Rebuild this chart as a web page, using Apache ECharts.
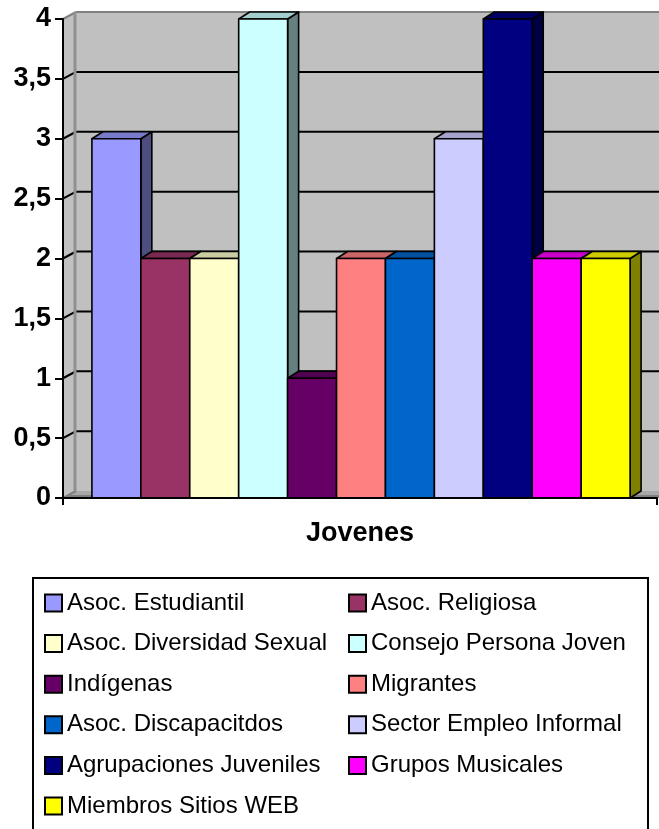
<!DOCTYPE html>
<html>
<head>
<meta charset="utf-8">
<script src="https://cdn.jsdelivr.net/npm/echarts@6/dist/echarts.min.js"></script>
<style>
html,body{margin:0;padding:0;background:#fff;}
#chart{width:659px;height:829px;}
</style>
</head>
<body>
<div id="chart"></div>
<script>
const categories = ['Jovenes'];
const seriesNames = [
  'Asoc. Estudiantil', 'Asoc. Religiosa', 'Asoc. Diversidad Sexual', 'Consejo Persona Joven',
  'Indígenas', 'Migrantes', 'Asoc. Discapacitdos', 'Sector Empleo Informal',
  'Agrupaciones Juveniles', 'Grupos Musicales', 'Miembros Sitios WEB'
];
const seriesValues = [3, 2, 2, 4, 1, 2, 2, 3, 4, 2, 2];
const yTickValues = [0, 0.5, 1, 1.5, 2, 2.5, 3, 3.5, 4];

const seriesColors = ['#9999FF', '#993366', '#FFFFCC', '#CCFFFF', '#660066', '#FF8080',
  '#0066CC', '#CCCCFF', '#000080', '#FF00FF', '#FFFF00'];

function shade(hex, f) {
  const n = parseInt(hex.slice(1), 16);
  const r = Math.round(((n >> 16) & 255) * f), g = Math.round(((n >> 8) & 255) * f), b = Math.round((n & 255) * f);
  return 'rgb(' + r + ',' + g + ',' + b + ')';
}

const N = seriesValues.length;
const GAP_RATIO = 0.094;
const BAR_DX = 11, BAR_DY = -7;
const WALL_DX = 13, WALL_DY = -7;
const FONT = "'Liberation Sans', Arial, sans-serif";

function renderWalls(params, api) {
  const cs = params.coordSys;
  const L = cs.x, R = cs.x + cs.width, T = cs.y, B = cs.y + cs.height;
  const children = [];
  children.push({type: 'rect', shape: {x: L + WALL_DX, y: T + WALL_DY, width: 700, height: B - T}, style: {fill: '#C0C0C0'}});
  children.push({type: 'polygon', shape: {points: [[L, B], [L, T], [L + WALL_DX, T + WALL_DY], [L + WALL_DX, B + WALL_DY]]}, style: {fill: '#C0C0C0'}});
  children.push({type: 'polygon', shape: {points: [[L, B], [L + WALL_DX, B + WALL_DY], [R + WALL_DX + 20, B + WALL_DY], [R + 20, B]]}, style: {fill: '#A8A8A8'}});
  children.push({type: 'polygon', shape: {points: [[L + 4, B - 3], [L + WALL_DX + 20, B - 3], [R + 20, B - 3], [R + 20, B], [L, B]]}, style: {fill: '#808080'}});
  yTickValues.forEach(function (v) {
    const y = api.coord([0, v])[1];
    const top = v === yTickValues[yTickValues.length - 1];
    const col = top ? '#808080' : '#000';
    if (v > 0) {
      children.push({type: 'line', shape: {x1: L + WALL_DX, y1: y + WALL_DY, x2: 700, y2: y + WALL_DY}, style: {stroke: col, lineWidth: 2}});
    }
    children.push({type: 'line', shape: {x1: L, y1: y, x2: L + WALL_DX, y2: y + WALL_DY}, style: {stroke: v === 0 ? '#808080' : col, lineWidth: 2}});
  });
  children.push({type: 'line', shape: {x1: L + WALL_DX - 1, y1: T + WALL_DY, x2: L + WALL_DX - 1, y2: B + WALL_DY}, style: {stroke: '#909090', lineWidth: 3}});
  return {type: 'group', children: children};
}

function makeBarRenderer(i) {
  return function (params, api) {
    const base = api.coord([api.value(0), 0]);
    const topPt = api.coord([api.value(0), api.value(1)]);
    const band = api.size([1, 0])[0];
    const total = band * (1 - GAP_RATIO);
    const bw = total / N;
    const x0 = base[0] - total / 2 + i * bw + 1;
    const yB = base[1], yT = topPt[1];
    const c = seriesColors[i];
    const st = {stroke: '#000', lineWidth: 1.6, lineJoin: 'round'};
    return {
      type: 'group',
      children: [
        {type: 'polygon', shape: {points: [[x0 + bw, yT], [x0 + bw + BAR_DX, yT + BAR_DY], [x0 + bw + BAR_DX, yB + BAR_DY], [x0 + bw, yB]]},
          style: Object.assign({fill: shade(c, 0.5)}, st)},
        {type: 'polygon', shape: {points: [[x0, yT], [x0 + BAR_DX, yT + BAR_DY], [x0 + bw + BAR_DX, yT + BAR_DY], [x0 + bw, yT]]},
          style: Object.assign({fill: shade(c, 0.8)}, st)},
        {type: 'rect', shape: {x: x0, y: yT, width: bw, height: yB - yT},
          style: Object.assign({fill: c}, st)}
      ]
    };
  };
}

const series = [{
  type: 'custom', name: '__walls', z: 1, silent: true,
  renderItem: renderWalls, data: [[0, 0]]
}];
seriesNames.forEach(function (name, i) {
  series.push({
    type: 'custom', name: name, z: 2 + i,
    itemStyle: {color: seriesColors[i]},
    renderItem: makeBarRenderer(i),
    data: [[0, seriesValues[i]]]
  });
});

const legendCommon = {
  orient: 'vertical', icon: 'rect', itemWidth: 17, itemHeight: 17, itemGap: 16.6,
  selectedMode: false,
  itemStyle: {borderColor: '#000', borderWidth: 2},
  textStyle: {fontFamily: FONT, fontSize: 24, color: '#000'}
};

const chart = echarts.init(document.getElementById('chart'), null, {renderer: 'canvas'});
chart.setOption({
  backgroundColor: '#fff',
  animation: false,
  grid: {left: 63, right: 2, top: 19, bottom: 331, containLabel: false},
  xAxis: {
    type: 'category', data: categories, boundaryGap: true,
    axisLine: {show: true, lineStyle: {color: '#000', width: 2}},
    axisTick: {show: true, length: 7, lineStyle: {color: '#000', width: 2}},
    axisLabel: {margin: 22, fontFamily: FONT, fontSize: 27, fontWeight: 'bold', color: '#000'},
    z: 20
  },
  yAxis: {
    type: 'value', min: 0, max: 4, interval: 0.5,
    axisLine: {show: true, lineStyle: {color: '#000', width: 2}},
    axisTick: {show: true, length: 8, lineStyle: {color: '#000', width: 2}},
    splitLine: {show: false},
    axisLabel: {margin: 12, fontFamily: FONT, fontSize: 27, fontWeight: 'bold', color: '#000',
      formatter: function (v) { return String(v).replace('.', ','); }},
    z: 20
  },
  legend: [
    Object.assign({left: 39, top: 586, data: seriesNames.filter(function (n, i) { return i % 2 === 0; })}, legendCommon),
    Object.assign({left: 343, top: 586, data: seriesNames.filter(function (n, i) { return i % 2 === 1; })}, legendCommon)
  ],
  graphic: [{
    type: 'rect', left: 32, top: 577, z: -1,
    shape: {width: 615, height: 270},
    style: {fill: '#fff', stroke: '#000', lineWidth: 2}
  }],
  series: series
});
</script>
</body>
</html>
